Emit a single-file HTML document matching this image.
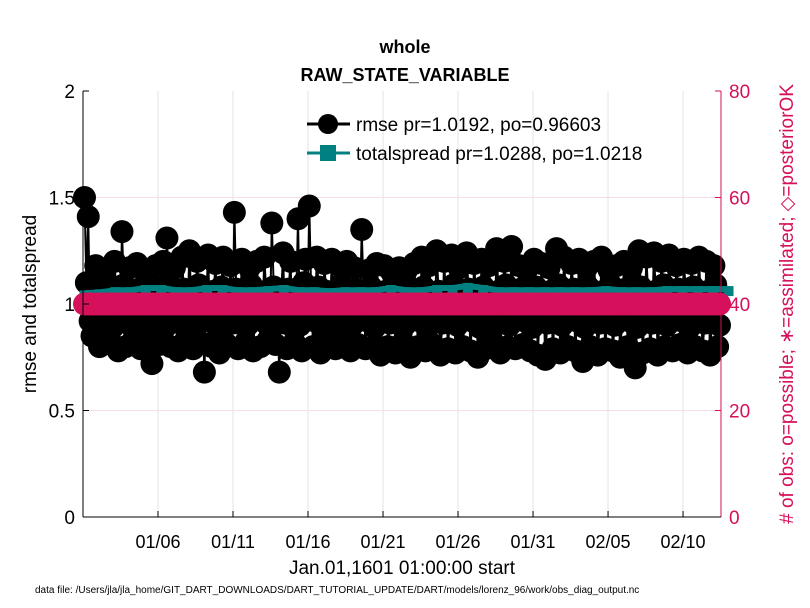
<!DOCTYPE html>
<html><head><meta charset="utf-8"><style>
html,body{margin:0;padding:0;background:#fff;}
svg{display:block;font-family:"Liberation Sans",Arial,sans-serif;}
</style></head><body>
<svg id="chart" width="810" height="608" viewBox="0 0 810 608" xmlns="http://www.w3.org/2000/svg">
<rect x="0" y="0" width="810" height="608" fill="#fff"/>
<g id="grid"></g>
<g id="series"></g>
<g id="axes"></g>
<text x="405" y="53" text-anchor="middle" font-size="18" font-weight="bold">whole</text>
<text x="405" y="81" text-anchor="middle" font-size="18" font-weight="bold">RAW_STATE_VARIABLE</text>
<text transform="translate(36,304) rotate(-90)" text-anchor="middle" font-size="19">rmse and totalspread</text>
<text transform="translate(793,304) rotate(-90)" text-anchor="middle" font-size="19" fill="#D6105A"># of obs: o=possible; ∗=assimilated; ◇=posteriorOK</text>
<text x="402" y="574" text-anchor="middle" font-size="19">Jan.01,1601 01:00:00 start</text>
<text x="35" y="593" font-size="10">data file: /Users/jla/jla_home/GIT_DART_DOWNLOADS/DART_TUTORIAL_UPDATE/DART/models/lorenz_96/work/obs_diag_output.nc</text>
<g id="legend">
<g>
<line x1="307" y1="124" x2="350" y2="124" stroke="#000" stroke-width="3"/>
<circle cx="328" cy="124" r="10" fill="#000"/>
<text x="356" y="131" font-size="19">rmse pr=1.0192, po=0.96603</text>
</g>
<g>
<line x1="307" y1="153" x2="350" y2="153" stroke="#008080" stroke-width="3"/>
<rect x="320" y="145" width="16" height="16" fill="#008080"/>
<text x="356" y="160" font-size="19">totalspread pr=1.0288, po=1.0218</text>
</g>
</g>
</svg>
<script>
const rmseValues = [
1.50,1.41,0.85,1.18,0.80,1.15,1.10,0.82,1.20,0.78,
1.34,0.80,1.17,0.83,1.19,0.79,1.16,0.84,0.72,1.18,
0.81,1.20,1.31,0.80,1.17,0.78,1.22,0.83,1.25,0.79,
1.20,0.82,0.68,1.23,0.80,1.19,0.77,1.22,0.81,1.18,
1.43,0.79,1.21,0.82,1.17,0.78,1.20,0.80,1.22,0.83,
1.38,0.81,0.68,1.24,0.79,1.20,0.82,1.40,0.78,1.21,
1.46,0.80,1.22,0.77,1.19,0.83,1.21,0.79,1.18,0.82,
1.20,0.78,1.17,0.81,1.35,0.79,1.16,0.80,1.19,0.76,
1.18,0.80,1.15,0.77,1.17,0.82,1.16,0.75,1.19,0.80,
1.22,0.78,1.18,0.81,1.25,0.76,1.20,0.79,1.23,0.77,
1.17,0.80,1.24,0.78,1.19,0.75,1.21,0.79,1.18,0.82,
1.26,0.77,1.20,0.80,1.27,0.79,1.18,0.81,1.16,0.78,
1.21,0.76,1.19,0.74,1.17,0.79,1.26,0.77,1.22,0.80,
1.19,0.78,1.21,0.73,1.17,0.80,1.20,0.76,1.22,0.79,
1.16,0.78,1.18,0.75,1.20,0.80,1.17,0.70,1.25,0.77,
1.22,0.79,1.24,0.76,1.20,0.80,1.23,0.78,1.18,0.81,
1.21,0.77,1.19,0.80,1.22,0.78,1.20,0.76,1.18,0.80];
const rmseInnerValues = [
1.10,0.92,1.05,0.90,1.08,0.95,1.02,0.89,1.06,0.93,
1.09,0.91,1.04,0.96,1.07,0.90,1.01,0.94,1.08,0.92,
1.03,0.89,1.10,0.95,1.05,0.91,1.07,0.93,1.02,0.90,
1.09,0.94,1.04,0.92,1.06,0.89,1.08,0.95,1.03,0.91,
1.07,0.93,1.05,0.90,1.09,0.94,1.02,0.92,1.06,0.89,
1.08,0.95,1.04,0.91,1.07,0.93,1.03,0.90,1.10,0.94,
1.05,0.92,1.08,0.89,1.06,0.95,1.02,0.91,1.09,0.93,
1.04,0.90,1.07,0.94,1.05,0.92,1.08,0.89,1.03,0.95,
1.06,0.91,1.09,0.93,1.04,0.90,1.07,0.94,1.02,0.92,
1.08,0.89,1.05,0.95,1.06,0.91,1.03,0.93,1.09,0.90,
1.04,0.94,1.07,0.92,1.05,0.89,1.08,0.95,1.02,0.91,
1.06,0.93,1.09,0.90,1.04,0.94,1.07,0.92,1.05,0.89,
1.08,0.95,1.03,0.91,1.06,0.93,1.09,0.90,1.04,0.94,
1.07,0.92,1.05,0.89,1.08,0.95,1.02,0.91,1.06,0.93,
1.09,0.90,1.04,0.94,1.07,0.92,1.05,0.89,1.08,0.95,
1.03,0.91,1.06,0.93,1.09,0.90,1.04,0.94,1.07,0.92,
1.05,0.89,1.08,0.95,1.02,0.91,1.06,0.93,1.09,0.90];
const spreadValues = [1.05,1.055,1.065,1.065,1.075,1.075,1.065,1.065,1.075,1.075,1.065,1.065,1.07,1.075,1.065,1.065,1.06,1.065,1.065,1.065,1.075,1.065,1.065,1.075,1.075,1.085,1.075,1.065,1.065,1.065,1.065,1.065,1.065,1.065,1.07,1.065,1.065,1.065,1.07,1.07,1.07,1.07,1.07];
const obsCount = 40;
const yTicks = [0,0.5,1,1.5,2];
const yTickLabels = ["0","0.5","1","1.5","2"];
const rTicks = [0,20,40,60,80];
const xTickDays = [5,10,15,20,25,30,35,40];
const xTickLabels = ["01/06","01/11","01/16","01/21","01/26","01/31","02/05","02/10"];

const NS="http://www.w3.org/2000/svg";
const X0=83,X1=721,Y0=517,Y1=91,DAYS=42.53;
const xs=d=>X0+(d/DAYS)*(X1-X0);
const ys=v=>Y0-(v/2)*(Y0-Y1);
const yr=v=>Y0-(v/80)*(Y0-Y1);
function mk(tag,attrs,parent){const e=document.createElementNS(NS,tag);for(const k in attrs)e.setAttribute(k,attrs[k]);parent.appendChild(e);return e;}
const grid=document.getElementById('grid'),series=document.getElementById('series'),axes=document.getElementById('axes');

xTickDays.forEach((d,i)=>{
 const l=mk('line',{x1:xs(d),x2:xs(d),y1:Y1,y2:Y0,stroke:'#e3e3e3','stroke-width':1},grid);
 
 
 const t=mk('line',{x1:xs(d),x2:xs(d),y1:Y0,y2:Y0-6,stroke:'#000'},axes);
 
 
 const tx=mk('text',{x:xs(d),y:Y0+31,'text-anchor':'middle','font-size':18},axes);
 tx.textContent=xTickLabels[i];
 
 
});
rTicks.forEach(v=>{
 if(v>0&&v<80){const l=mk('line',{x1:X0,x2:X1,y1:yr(v),y2:yr(v),stroke:'#f7dde6','stroke-width':1},grid);
 
 }
 const t=mk('line',{x1:X1,x2:X1-6,y1:yr(v),y2:yr(v),stroke:'#D6105A'},axes);
 
 
 const tx=mk('text',{x:X1+8,y:yr(v)+7,'font-size':19,fill:'#D6105A'},axes);
 tx.textContent=String(v);
 
 
});
yTicks.forEach((v,i)=>{
 const t=mk('line',{x1:X0,x2:X0+6,y1:ys(v),y2:ys(v),stroke:'#000'},axes);
 
 
 const tx=mk('text',{x:X0-8,y:ys(v)+7,'text-anchor':'end','font-size':19},axes);
 tx.textContent=yTickLabels[i];
 
 
});

const seq=[];
rmseValues.forEach((v,i)=>{seq.push(v);if(i<rmseInnerValues.length)seq.push(rmseInnerValues[i]);});
const n=seq.length;
const rx=i=>xs(0.1+i*(DAYS-0.2)/(n-1));
let d='';seq.forEach((v,i)=>{d+=(i?'L':'M')+rx(i).toFixed(1)+' '+ys(v).toFixed(1);});
const rl=mk('path',{d:d,fill:'none',stroke:'#000','stroke-width':2},series);


seq.forEach((v,i)=>{
 const c=mk('circle',{cx:rx(i),cy:ys(v),r:11.5,fill:'#000'},series);
 
 
});
const m=spreadValues.length;
const sx=i=>xs(0.1+i*(DAYS+0.4)/(m-1));
let d2='';spreadValues.forEach((v,i)=>{d2+=(i?'L':'M')+sx(i).toFixed(1)+' '+ys(v).toFixed(1);});
const sl=mk('path',{d:d2,fill:'none',stroke:'#008080','stroke-width':6},series);


spreadValues.forEach((v,i)=>{
 const s=mk('rect',{x:sx(i)-5,y:ys(v)-3,width:10,height:10,fill:'#008080'},series);
 
 
});
for(let i=0;i<rmseValues.length;i++){
 const c=mk('circle',{cx:xs(0.1+i*(DAYS-0.2)/(rmseValues.length-1)),cy:yr(obsCount),r:11.5,fill:'#D6105A'},series);
 
 
}
const la=mk('line',{x1:X0,x2:X0,y1:Y1,y2:Y0,stroke:'#000','stroke-width':1},axes);


const ra=mk('line',{x1:X1,x2:X1,y1:Y1,y2:Y0,stroke:'#D6105A','stroke-width':1},axes);


const ba=mk('line',{x1:X0,x2:X1,y1:Y0,y2:Y0,stroke:'#000','stroke-width':1},axes);


</script>
</body></html>
